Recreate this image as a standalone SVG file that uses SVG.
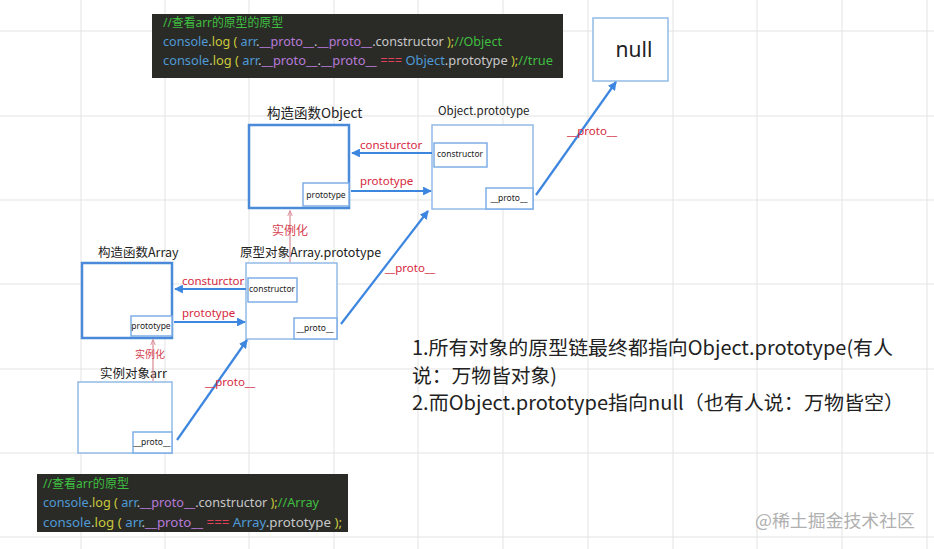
<svg xmlns="http://www.w3.org/2000/svg" width="934" height="549" viewBox="0 0 934 549">
<style>
.grid line{stroke:#e3e3e3;stroke-width:1}
.code{fill:#2a2b27}
.ct{font-family:"Noto Sans","Noto Sans CJK SC",sans-serif;font-size:12.5px}
.cm{fill:#3fbf3f}.cb{fill:#4f9ad6}.cy{fill:#c9c93a}.cp{fill:#b77ad8}.cg{fill:#c8c8c8}.cr{fill:#e0405a}
.thick{fill:#fff;stroke:#4a8ad8;stroke-width:2.5}
.thin{fill:#fff;stroke:#93bbe8;stroke-width:1.5}
.inner{fill:#fff;stroke:#7eaee6;stroke-width:1.5}
.title{font-family:"Noto Sans CJK SC","Noto Sans",sans-serif;font-size:13.5px;fill:#222}
.small{font-family:"Noto Sans","Noto Sans CJK SC",sans-serif;font-size:8.5px;fill:#222}
.lab{font-family:"Noto Sans","Noto Sans CJK SC",sans-serif;font-size:11.5px;fill:#d6283c}
.labc{font-family:"Noto Sans CJK SC",sans-serif;font-size:12px;fill:#d6404f}
.arrow{stroke:#3d86e0;stroke-width:2.2;fill:none}
.red{stroke:#d88a94;stroke-width:1.2;fill:none}
.note{font-family:"Noto Sans CJK SC","Noto Sans",sans-serif;font-size:19.5px;fill:#222}
</style>
<defs>
<marker id="ah" viewBox="0 0 10 10" refX="9" refY="5" markerWidth="4" markerHeight="4" orient="auto"><path d="M0,0L10,5L0,10z" fill="#3d86e0"/></marker>
<marker id="rh" viewBox="0 0 10 10" refX="9" refY="5" markerWidth="5" markerHeight="5" orient="auto"><path d="M0,1L10,5L0,9" fill="none" stroke="#d88a94" stroke-width="1.5"/></marker>
</defs>
<rect width="934" height="549" fill="#fff"/>
<g class="grid">
<line x1="81" y1="0" x2="81" y2="549"/><line x1="165" y1="0" x2="165" y2="549"/><line x1="249" y1="0" x2="249" y2="549"/><line x1="334" y1="0" x2="334" y2="549"/><line x1="418" y1="0" x2="418" y2="549"/><line x1="503" y1="0" x2="503" y2="549"/><line x1="588" y1="0" x2="588" y2="549"/><line x1="673" y1="0" x2="673" y2="549"/><line x1="757" y1="0" x2="757" y2="549"/><line x1="842" y1="0" x2="842" y2="549"/><line x1="927" y1="0" x2="927" y2="549"/>
<line x1="0" y1="31" x2="934" y2="31"/><line x1="0" y1="116" x2="934" y2="116"/><line x1="0" y1="200" x2="934" y2="200"/><line x1="0" y1="284" x2="934" y2="284"/><line x1="0" y1="369" x2="934" y2="369"/><line x1="0" y1="453" x2="934" y2="453"/><line x1="0" y1="537" x2="934" y2="537"/>
</g>

<g id="code1">
<rect class="code" x="152" y="14" width="411" height="64"/>
<text class="ct cm" x="163" y="27" textLength="120" lengthAdjust="spacingAndGlyphs">//查看arr的原型的原型</text>
<text class="ct" x="163" y="46" textLength="339" lengthAdjust="spacingAndGlyphs"><tspan class="cb">console</tspan><tspan class="cg">.</tspan><tspan class="cy">log</tspan><tspan class="cy"> ( </tspan><tspan class="cb">arr</tspan><tspan class="cg">.</tspan><tspan class="cp">__proto__</tspan><tspan class="cg">.</tspan><tspan class="cp">__proto__</tspan><tspan class="cg">.constructor </tspan><tspan class="cy">);</tspan><tspan class="cm">//Object</tspan></text>
<text class="ct" x="163" y="65" textLength="390" lengthAdjust="spacingAndGlyphs"><tspan class="cb">console</tspan><tspan class="cg">.</tspan><tspan class="cy">log</tspan><tspan class="cy"> ( </tspan><tspan class="cb">arr</tspan><tspan class="cg">.</tspan><tspan class="cp">__proto__</tspan><tspan class="cg">.</tspan><tspan class="cp">__proto__</tspan><tspan class="cr"> === </tspan><tspan class="cb">Object</tspan><tspan class="cg">.prototype </tspan><tspan class="cy">);</tspan><tspan class="cm">//true</tspan></text>
</g>

<g id="code2">
<rect class="code" x="37" y="474" width="311" height="58"/>
<text class="ct cm" x="43" y="488" textLength="86" lengthAdjust="spacingAndGlyphs">//查看arr的原型</text>
<text class="ct" x="43" y="507" textLength="276" lengthAdjust="spacingAndGlyphs"><tspan class="cb">console</tspan><tspan class="cg">.</tspan><tspan class="cy">log</tspan><tspan class="cy"> ( </tspan><tspan class="cb">arr</tspan><tspan class="cg">.</tspan><tspan class="cp">__proto__</tspan><tspan class="cg">.constructor </tspan><tspan class="cy">);</tspan><tspan class="cm">//Array</tspan></text>
<text class="ct" x="43" y="527" textLength="299" lengthAdjust="spacingAndGlyphs"><tspan class="cb">console</tspan><tspan class="cg">.</tspan><tspan class="cy">log</tspan><tspan class="cy"> ( </tspan><tspan class="cb">arr</tspan><tspan class="cg">.</tspan><tspan class="cp">__proto__</tspan><tspan class="cr"> === </tspan><tspan class="cb">Array</tspan><tspan class="cg">.prototype </tspan><tspan class="cy">);</tspan></text>
</g>

<g id="null">
<rect class="thin" x="593" y="18" width="75" height="63"/>
<text x="634" y="57" text-anchor="middle" font-family="Noto Sans, sans-serif" font-size="21" fill="#222">null</text>
</g>

<g id="objectCtor">
<text class="title" x="267" y="118">构造函数Object</text>
<rect class="thick" x="249" y="125" width="100" height="83"/>
<rect class="inner" x="303" y="183" width="46" height="23"/>
<text class="small" x="326" y="198" text-anchor="middle">prototype</text>
</g>

<g id="objectProto">
<text class="title" x="438" y="115" style="font-size:11.5px">Object.prototype</text>
<rect class="thin" x="432" y="125" width="101" height="84"/>
<rect class="inner" x="434" y="143" width="53" height="24"/>
<text class="small" x="460" y="157" text-anchor="middle">constructor</text>
<rect class="inner" x="486" y="188" width="47" height="21"/>
<text class="small" x="509" y="201" text-anchor="middle">__proto__</text>
</g>

<g id="arrayCtor">
<text class="title" x="98" y="257" style="font-size:12.5px">构造函数Array</text>
<rect class="thick" x="82" y="263" width="90" height="75"/>
<rect class="inner" x="131" y="316" width="41" height="20"/>
<text class="small" x="151" y="329" text-anchor="middle">prototype</text>
</g>

<g id="arrayProto">
<text class="title" x="240" y="257" style="font-size:12.5px">原型对象Array.prototype</text>
<rect class="thin" x="246" y="263" width="91" height="76"/>
<rect class="inner" x="248" y="278" width="49" height="24"/>
<text class="small" x="272" y="292" text-anchor="middle">constructor</text>
<rect class="inner" x="294" y="318" width="43" height="21"/>
<text class="small" x="315" y="331" text-anchor="middle">__proto__</text>
</g>

<g id="arr">
<text class="title" x="100" y="378" style="font-size:12.5px">实例对象arr</text>
<rect class="thin" x="78" y="382" width="94" height="71"/>
<rect class="inner" x="133" y="432" width="39" height="21"/>
<text class="small" x="152" y="445" text-anchor="middle">__proto__</text>
</g>

<g id="connectors">
<line class="arrow" x1="432" y1="153" x2="352" y2="153" marker-end="url(#ah)"/>
<text class="lab" x="360" y="149">consturctor</text>
<line class="arrow" x1="351" y1="191" x2="431" y2="191" marker-end="url(#ah)"/>
<text class="lab" x="360" y="185">prototype</text>
<line class="arrow" x1="536" y1="195" x2="616" y2="82" marker-end="url(#ah)"/>
<text class="lab" x="567" y="135">__proto__</text>

<line class="arrow" x1="246" y1="289" x2="175" y2="289" marker-end="url(#ah)"/>
<text class="lab" x="182" y="285">consturctor</text>
<line class="arrow" x1="174" y1="322" x2="245" y2="322" marker-end="url(#ah)"/>
<text class="lab" x="182" y="317">prototype</text>
<line class="arrow" x1="341" y1="324" x2="428" y2="211" marker-end="url(#ah)"/>
<text class="lab" x="385" y="272">__proto__</text>

<line class="arrow" x1="177" y1="440" x2="247" y2="340" marker-end="url(#ah)"/>
<text class="lab" x="205" y="386">__proto__</text>

<line class="red" x1="290" y1="262" x2="290" y2="211" marker-end="url(#rh)"/>
<text class="labc" x="272" y="235">实例化</text>
<line class="red" x1="153" y1="381" x2="153" y2="340" marker-end="url(#rh)"/>
<text class="labc" x="135" y="358" style="font-size:10px">实例化</text>
</g>

<g id="note">
<text class="note" x="412" y="355" textLength="481" lengthAdjust="spacingAndGlyphs">1.所有对象的原型链最终都指向Object.prototype(有人</text>
<text class="note" x="412" y="383" textLength="145" lengthAdjust="spacingAndGlyphs">说：万物皆对象)</text>
<text class="note" x="412" y="410" textLength="492" lengthAdjust="spacingAndGlyphs">2.而Object.prototype指向null（也有人说：万物皆空）</text>
</g>

<text x="755" y="527" font-family="Noto Sans CJK SC, sans-serif" font-size="17.5" fill="#b0b0b0" textLength="160" lengthAdjust="spacingAndGlyphs">@稀土掘金技术社区</text>
</svg>
